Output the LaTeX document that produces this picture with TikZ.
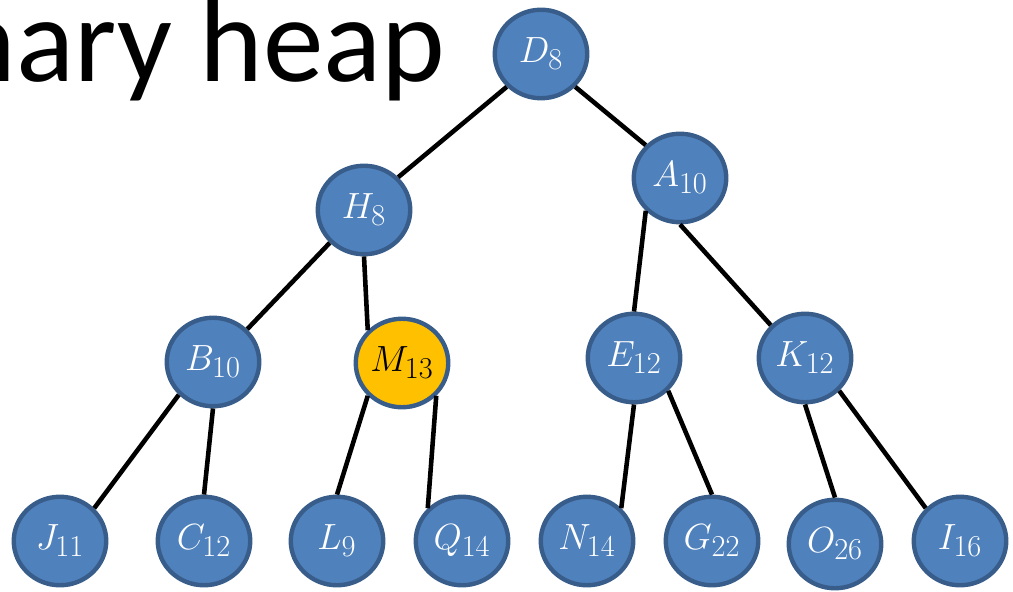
\documentclass[tikz,border=0pt]{standalone}
\usepackage{fontspec}
\newfontfamily\titlefont{Carlito}
\usetikzlibrary{shapes.geometric}
\DeclareMathSizes{22}{22}{17}{13}
\definecolor{heapblue}{HTML}{4F81BD}
\definecolor{heapline}{HTML}{385D8A}
\definecolor{heapgold}{HTML}{FFC000}

\begin{document}
\begin{tikzpicture}[x=0.02cm, y=-0.02cm,
    heapnode/.style={ellipse, draw=heapline, line width=2.5pt, fill=heapblue,
      text=white, minimum width=1.85cm, minimum height=1.77cm, inner sep=0pt,
      font=\fontsize{22}{26}\selectfont},
    marked/.style={fill=heapgold, text=black},
    heapedge/.style={line width=2.6pt}]
        % --- 1. Frame (pixel units, y downwards) ---
        \useasboundingbox (0,0) rectangle (1013,591);

        % --- 2. Title ---
        \node[anchor=base east, inner sep=0pt, font=\titlefont\fontsize{69}{80}\selectfont]
            (title) at (446,82) {Binary heap};

        % --- 3. Nodes ---
        \node[heapnode] (D) at (541,54) {$D_8$};
        \node[heapnode] (H) at (364,210) {$H_8$};
        \node[heapnode] (A) at (680,178) {$A_{10}$};
        \node[heapnode] (B) at (213,362) {$B_{10}$};
        \node[heapnode, marked] (M) at (402,363) {$M_{13}$};
        \node[heapnode] (E) at (634,358) {$E_{12}$};
        \node[heapnode] (K) at (805,358) {$K_{12}$};
        \node[heapnode] (J) at (60,541) {$J_{11}$};
        \node[heapnode] (C) at (204,541) {$C_{12}$};
        \node[heapnode] (L) at (337,541) {$L_9$};
        \node[heapnode] (Q) at (462,541) {$Q_{14}$};
        \node[heapnode] (N) at (587,541) {$N_{14}$};
        \node[heapnode] (G) at (712,541) {$G_{22}$};
        \node[heapnode] (O) at (835,544) {$O_{26}$};
        \node[heapnode] (I) at (960,541) {$I_{16}$};

        % --- 4. Edges (between connection points) ---
        \draw[heapedge] (D.south west) -- (H.north east);
        \draw[heapedge] (D.south east) -- (A.north west);
        \draw[heapedge] (H.south west) -- (B.north east);
        \draw[heapedge] (H.south) -- (M.north west);
        \draw[heapedge] (A.south west) -- (E.north);
        \draw[heapedge] (A.south) -- (K.north west);
        \draw[heapedge] (B.south west) -- (J.north east);
        \draw[heapedge] (B.south) -- (C.north);
        \draw[heapedge] (M.south west) -- (L.north);
        \draw[heapedge] (M.south east) -- (Q.north west);
        \draw[heapedge] (E.south) -- (N.north east);
        \draw[heapedge] (E.south east) -- (G.north);
        \draw[heapedge] (K.south) -- (O.north);
        \draw[heapedge] (K.south east) -- (I.north west);
\end{tikzpicture}
\end{document}
